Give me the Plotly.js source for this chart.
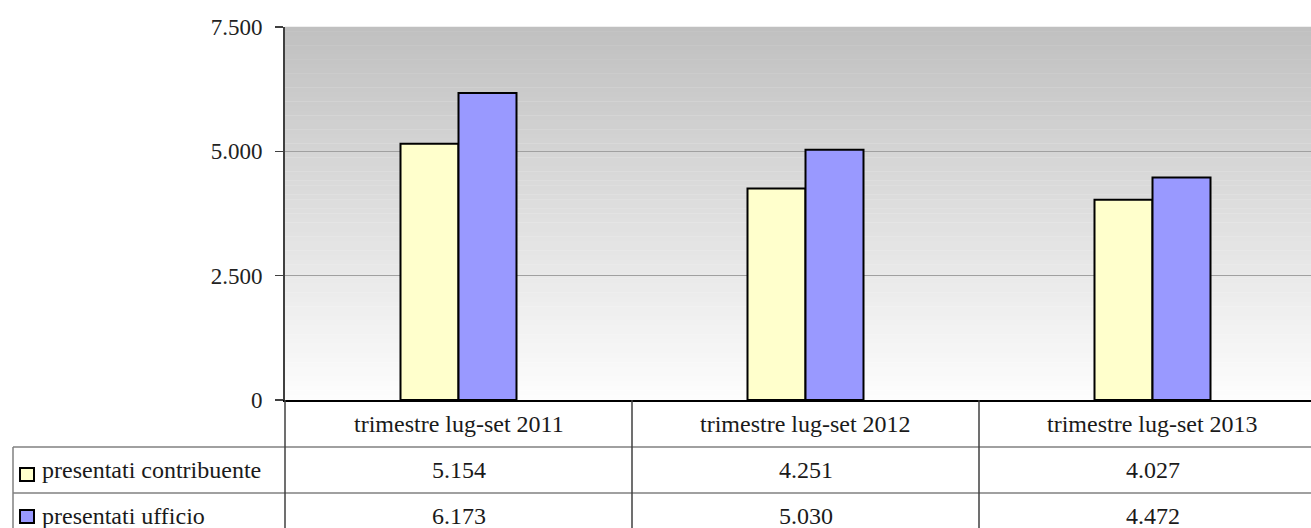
<!DOCTYPE html>
<html>
<head>
<meta charset="utf-8">
<script src="https://cdn.plot.ly/plotly-3.0.1.min.js"></script>
<style>html,body{margin:0;padding:0;background:#fff;}#chart{width:1311px;height:528px;}</style>
</head>
<body>
<div id="chart"></div>
<script>
// ---- data ----
const categories = ["trimestre lug-set 2011", "trimestre lug-set 2012", "trimestre lug-set 2013"];
const seriesNames = ["presentati contribuente", "presentati ufficio"];
const contribuente = [5154, 4251, 4027];
const ufficio = [6173, 5030, 4472];
const yTickVals = [0, 2500, 5000, 7500];
const yTickText = ["0", "2.500", "5.000", "7.500"];

// ---- layout helpers ----
const W = 1311, H = 528;
const L = 285, T = 27, B = 400;
const plotW = W - L, plotH = B - T;
const catW = 347;
const xr = [-0.5, -0.5 + plotW / catW];
const FONT = "Liberation Serif, Times New Roman, serif";
const FS = 24;
const TXT = "#1a1a1a";
const px = x => (x - L) / plotW;
const py = y => (B - y) / plotH;
const dx = v => (v - xr[0]) / (xr[1] - xr[0]);
const fmt = n => String(n).replace(/\B(?=(\d{3})+(?!\d))/g, ".");

const colors = ["#FFFFCC", "#9999FF"];
const seriesVals = [contribuente, ufficio];

const traces = seriesVals.map((vals, i) => ({
  type: "bar",
  x: categories,
  y: vals,
  name: seriesNames[i],
  marker: {color: colors[i], line: {color: "#000", width: 2}},
  hoverinfo: "none"
}));

const shapes = [];
// gradient background
const N = 80;
for (let i = 0; i < N; i++) {
  const t = i / N;
  const c = Math.round(192 + (254 - 192) * t);
  shapes.push({type: "rect", xref: "paper", yref: "paper", layer: "below",
    x0: 0, x1: 1, y0: 1 - (i + 1) / N, y1: 1 - i / N + 0.001,
    fillcolor: `rgb(${c},${c},${c})`, line: {width: 0}});
}
// table lines
const tblLine = {color: "#808080", width: 1.5};
const rowYs = [447, 493];
rowYs.forEach(y => shapes.push({type: "line", xref: "paper", yref: "paper",
  x0: px(13), x1: 1.01, y0: py(y), y1: py(y), line: tblLine}));
shapes.push({type: "line", xref: "paper", yref: "paper", x0: px(13), x1: px(13), y0: py(447), y1: py(540), line: tblLine});
shapes.push({type: "line", xref: "paper", yref: "paper", x0: 0, x1: 0, y0: 0, y1: py(540), line: {color: "#404040", width: 1.5}});
for (let k = 0; k < categories.length - 1; k++) {
  const xp = dx(k + 0.5);
  shapes.push({type: "line", xref: "paper", yref: "paper", x0: xp, x1: xp, y0: 0, y1: py(540), line: {color: "#404040", width: 1.5}});
}
// legend keys
const keyY = [468, 510];
keyY.forEach((y, i) => shapes.push({type: "rect", xref: "paper", yref: "paper",
  x0: px(20), x1: px(34), y0: py(y), y1: py(y + 13), fillcolor: colors[i], line: {color: "#000", width: 2}}));

const annotations = [];
categories.forEach((c, k) => annotations.push({xref: "x", yref: "paper", x: k, y: py(424),
  text: c, showarrow: false, xanchor: "center", yanchor: "middle", font: {family: FONT, size: FS, color: TXT}}));
const rowCenters = [470, 516];
seriesVals.forEach((vals, i) => {
  annotations.push({xref: "paper", yref: "paper", x: px(40), y: py(rowCenters[i]), text: seriesNames[i],
    showarrow: false, xanchor: "left", yanchor: "middle", font: {family: FONT, size: FS, color: TXT}});
  vals.forEach((v, k) => annotations.push({xref: "x", yref: "paper", x: k, y: py(rowCenters[i]),
    text: fmt(v), showarrow: false, xanchor: "center", yanchor: "middle", font: {family: FONT, size: FS, color: TXT}}));
});

const layout = {
  width: W, height: H,
  margin: {l: L, r: 0, t: T, b: H - B, pad: 0},
  paper_bgcolor: "#fff",
  plot_bgcolor: "rgba(0,0,0,0)",
  showlegend: false,
  barmode: "group",
  bargap: 1 - 116 / 347,
  bargroupgap: 0,
  font: {family: FONT, size: FS, color: TXT},
  xaxis: {type: "category", range: xr, showticklabels: false, ticks: "", showgrid: false,
    showline: true, linecolor: "#000", linewidth: 2, zeroline: false, fixedrange: true},
  yaxis: {range: [0, 7500], tickvals: yTickVals, ticktext: yTickText, showgrid: true,
    gridcolor: "#a0a0a0", gridwidth: 1.5, zeroline: false, showline: true, linecolor: "#404040", linewidth: 2,
    ticks: "outside", ticklen: 8, tickwidth: 1.5, tickcolor: "#404040", ticklabelstandoff: 8,
    tickfont: {family: FONT, size: 23, color: "#222"}, fixedrange: true},
  shapes: shapes,
  annotations: annotations
};

Plotly.newPlot("chart", traces, layout, {displayModeBar: false, staticPlot: true});
</script>
</body>
</html>
